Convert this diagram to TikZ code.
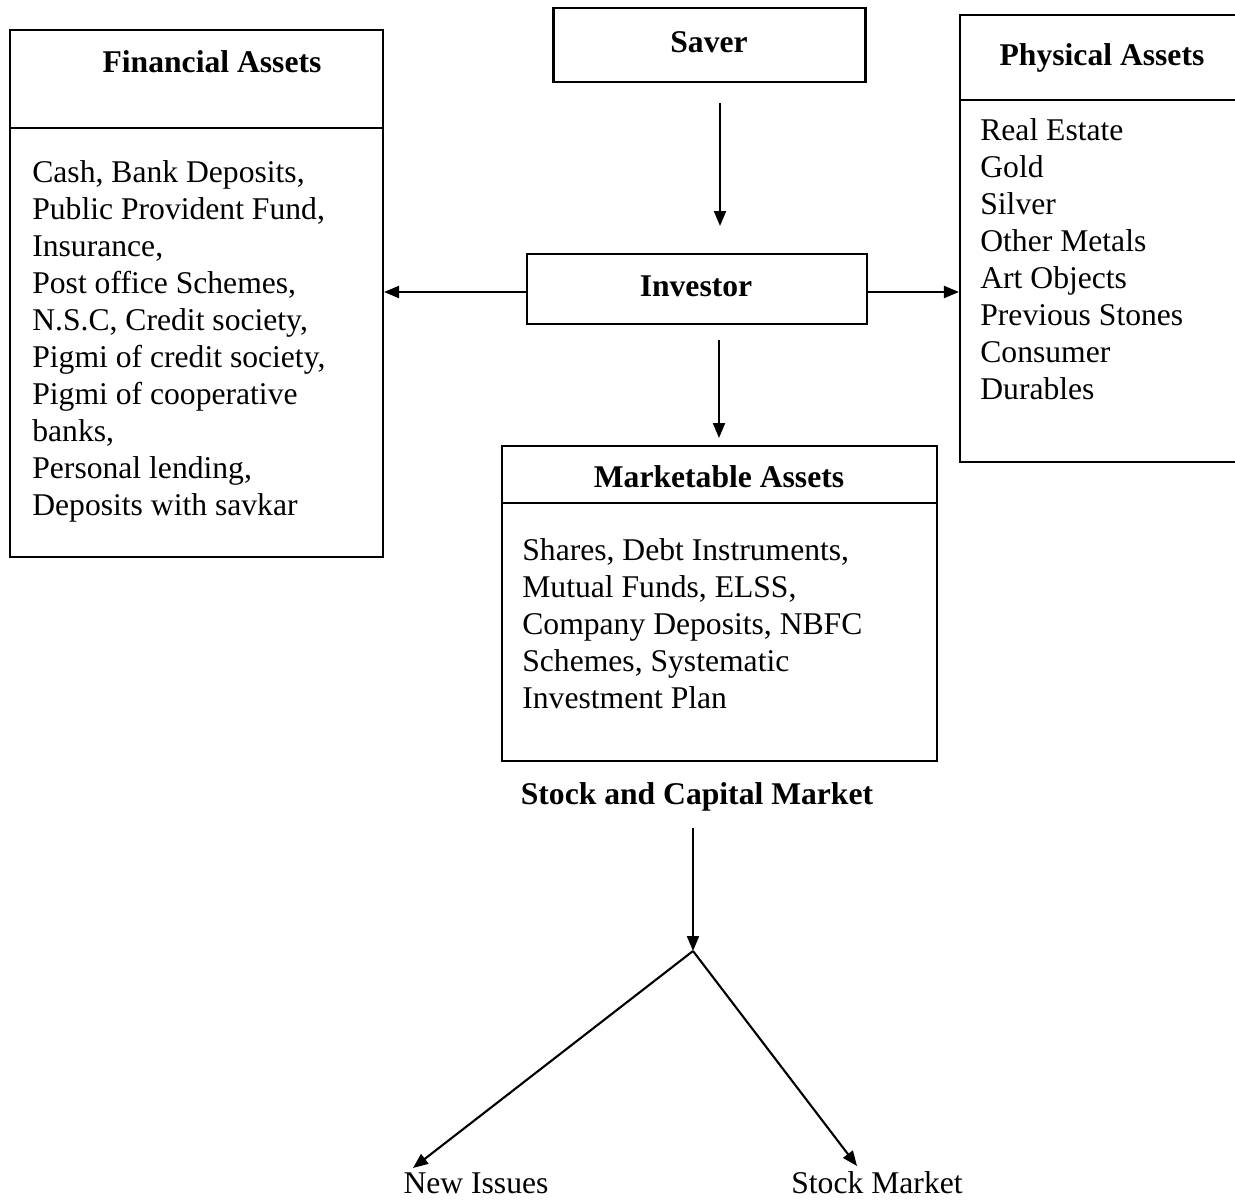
\documentclass[tikz,border=0pt]{standalone}
\usepackage{fontspec}
\setmainfont{Liberation Serif}
\usetikzlibrary{arrows.meta}
\begin{document}
\begin{tikzpicture}[x=0.02cm,y=-0.02cm,
  box/.style={draw,line width=1.2pt,inner sep=0pt,minimum width=#1*0.02cm},
  hdr/.style={font=\fontsize{18}{21}\selectfont\bfseries,inner sep=0pt},
  body/.style={font=\fontsize{18}{21.05}\selectfont,inner sep=0pt,align=left,anchor=north west},
  lbl/.style={font=\fontsize{18}{21}\selectfont,inner sep=0pt},
  arr/.style={line width=1.2pt,-{Triangle[length=0.3cm,width=0.24cm]}},
  ln/.style={line width=1.2pt}]
\useasboundingbox (0,0) rectangle (1235,1200);
% boxes
\node[box=373,minimum height=527*0.02cm] (fin) at (196.5,293.5) {};
\draw[ln] (10,128) -- (383,128);
\node[box=312,minimum height=74*0.02cm] (saver) at (709.5,45) {};
\node[box=282,minimum height=447*0.02cm] (phys) at (1101,238.5) {};
\draw[ln] (960,100) -- (1242,100);
\node[box=340,minimum height=70*0.02cm] (inv) at (697,289) {};
\node[box=435,minimum height=315*0.02cm] (mkt) at (719.5,603.5) {};
\draw[ln] (502,503) -- (937,503);
% headers
\node[hdr] (finh) at (212,62) {Financial Assets};
\node[hdr] (saverh) at (709,42) {Saver};
\node[hdr] (physh) at (1102,58) {Physical Assets};
\node[hdr] (invh) at (696,286) {Investor};
\node[hdr] (mkth) at (719,477) {Marketable Assets};
\node[hdr] (scm) at (697,797) {Stock and Capital Market};
% bodies
\node[body] (finb) at (32,160) {Cash, Bank Deposits,\\Public Provident Fund,\\Insurance,\\Post office Schemes,\\N.S.C, Credit society,\\Pigmi of credit society,\\Pigmi of cooperative\\banks,\\Personal lending,\\Deposits with savkar};
\node[body] (physb) at (980,118) {Real Estate\\Gold\\Silver\\Other Metals\\Art Objects\\Previous Stones\\Consumer\\Durables};
\node[body] (mktb) at (522,538) {Shares, Debt Instruments,\\Mutual Funds, ELSS,\\Company Deposits, NBFC\\Schemes, Systematic\\Investment Plan};
% bottom labels
\node[lbl] (newi) at (476,1183) {New Issues};
\node[lbl] (stm) at (877,1183) {Stock Market};
% connector coordinates
\coordinate (s1) at (720,103);
\coordinate (s2) at (720,226);
\coordinate (m1) at (719,340);
\coordinate (m2) at (719,438);
\coordinate (c1) at (693,828);
\coordinate (apex) at (693,951);
\coordinate (li) at (413,1168);
\coordinate (ri) at (857,1166);
% connectors
\draw[arr] (s1) -- (s2);
\draw[arr] (m1) -- (m2);
\draw[arr] (inv.west |- 0,292) -- (fin.east |- 0,292);
\draw[arr] (inv.east |- 0,292) -- (phys.west |- 0,292);
\draw[arr] (c1) -- (apex);
\draw[arr] (apex) -- (li);
\draw[arr] (apex) -- (ri);
\end{tikzpicture}
\end{document}
